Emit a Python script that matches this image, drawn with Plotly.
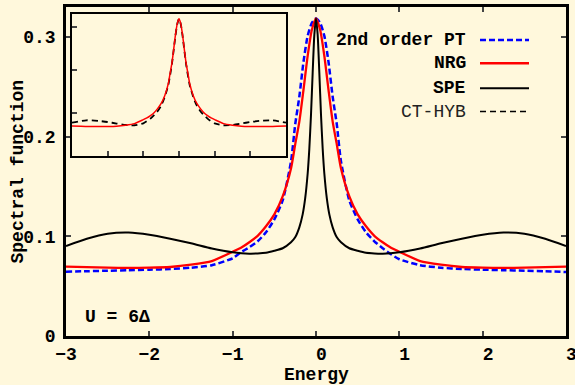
import plotly.graph_objects as go

# ---------------- data ----------------
x_main = [-3.0, -2.75, -2.5, -2.25, -2.0, -1.75, -1.5, -1.25, -1.0, -0.9, -0.8, -0.7,
          -0.6, -0.5, -0.4, -0.3, -0.25, -0.2, -0.15, -0.1, -0.05, 0.0,
          0.05, 0.1, 0.15, 0.2, 0.25, 0.3, 0.4, 0.5, 0.6, 0.7, 0.8, 0.9, 1.0,
          1.25, 1.5, 1.75, 2.0, 2.25, 2.5, 2.75, 3.0]

nrg = [0.0696, 0.0690, 0.0685, 0.0683, 0.0685, 0.0692, 0.0715, 0.0752, 0.0845, 0.0885, 0.0940, 0.1005,
       0.1100, 0.1220, 0.1400, 0.1680, 0.1920, 0.2150, 0.2470, 0.2810, 0.3070, 0.3185,
       0.3070, 0.2810, 0.2470, 0.2150, 0.1920, 0.1680, 0.1400, 0.1220, 0.1100, 0.1005, 0.0940, 0.0885, 0.0845,
       0.0752, 0.0715, 0.0692, 0.0685, 0.0683, 0.0685, 0.0690, 0.0696]

pt2 = [0.0645, 0.0650, 0.0655, 0.0660, 0.0665, 0.0672, 0.0685, 0.0710, 0.0780, 0.0840, 0.0890, 0.0950,
       0.1040, 0.1170, 0.1360, 0.1750, 0.2120, 0.2400, 0.2750, 0.3010, 0.3140, 0.3185,
       0.3140, 0.3010, 0.2750, 0.2400, 0.2120, 0.1750, 0.1360, 0.1170, 0.1040, 0.0950, 0.0880, 0.0820, 0.0770,
       0.0710, 0.0685, 0.0672, 0.0665, 0.0660, 0.0655, 0.0650, 0.0642]

x_spe = [-3.0, -2.75, -2.5, -2.25, -2.0, -1.75, -1.5, -1.25, -1.0, -0.8, -0.7, -0.6, -0.5, -0.4,
         -0.3, -0.25, -0.2, -0.16, -0.13, -0.1, -0.08, -0.06, -0.04, -0.02, 0.0,
         0.02, 0.04, 0.06, 0.08, 0.1, 0.13, 0.16, 0.2, 0.25, 0.3,
         0.4, 0.5, 0.6, 0.7, 0.8, 1.0, 1.25, 1.5, 1.75, 2.0, 2.25, 2.5, 2.75, 3.0]

spe = [0.0903, 0.0975, 0.1025, 0.1037, 0.1015, 0.0975, 0.0930, 0.0878, 0.0840, 0.0826, 0.0828, 0.0835, 0.0855, 0.0880,
       0.0940, 0.0990, 0.1090, 0.1220, 0.1380, 0.1630, 0.1880, 0.2220, 0.2640, 0.3020, 0.3185,
       0.3020, 0.2640, 0.2220, 0.1880, 0.1630, 0.1380, 0.1220, 0.1090, 0.0990, 0.0940,
       0.0880, 0.0855, 0.0835, 0.0828, 0.0826, 0.0840, 0.0878, 0.0930, 0.0975, 0.1015, 0.1037, 0.1025, 0.0975, 0.0903]

x_ct = [-3.0, -2.6, -2.25, -2.0, -1.75, -1.5, -1.25, -1.0, -0.8, -0.6, -0.5, -0.4, -0.3, -0.2, -0.1, -0.05, 0.0,
        0.05, 0.1, 0.2, 0.3, 0.4, 0.5, 0.6, 0.8, 1.0, 1.25, 1.5, 1.75, 2.0, 2.25, 2.6, 3.0]

cthyb = [0.0775, 0.0830, 0.0815, 0.0790, 0.0755, 0.0722, 0.0715, 0.0760, 0.0870, 0.1040, 0.1170, 0.1370, 0.1650, 0.2130, 0.2790, 0.3060, 0.3185,
         0.3060, 0.2790, 0.2130, 0.1650, 0.1370, 0.1170, 0.1040, 0.0870, 0.0760, 0.0715, 0.0722, 0.0755, 0.0790, 0.0815, 0.0830, 0.0775]

x_ticks = [-3, -2, -1, 0, 1, 2, 3]
# non-negative labels carry a leading blank (room for a sign), as in the reference
x_tick_text = ["\u22123", "\u22122", "\u22121", "\u00a00", "\u00a01", "\u00a02", "\u00a03"]
y_ticks = [0, 0.1, 0.2, 0.3]
y_tick_text = ["0", "0.1", "0.2", "0.3"]
inset_x_ticks = [-2, -1, 0, 1, 2]
inset_y_ticks = [0.1, 0.2, 0.3]

labels = ["2nd order PT", "NRG", "SPE", "CT-HYB"]

# ---------------- styling ----------------
BG = "#fff8dc"
FONT = "Liberation Mono"
BLUE = "#0000ff"
RED = "#ff0000"
BLACK = "#000000"

fig = go.Figure()

fig.add_trace(go.Scatter(x=x_main, y=pt2, mode="lines", name=labels[0],
                         line=dict(color=BLUE, width=2.5, dash="6px,3px", shape="spline", smoothing=0.6),
                         xaxis="x", yaxis="y", showlegend=False))
fig.add_trace(go.Scatter(x=x_main, y=nrg, mode="lines", name=labels[1],
                         line=dict(color=RED, width=2.3, shape="spline", smoothing=0.6),
                         xaxis="x", yaxis="y", showlegend=False))
fig.add_trace(go.Scatter(x=x_spe, y=spe, mode="lines", name=labels[2],
                         line=dict(color=BLACK, width=2, shape="spline", smoothing=0.6),
                         xaxis="x", yaxis="y", showlegend=False))

# inset
fig.add_trace(go.Scatter(x=x_ct, y=cthyb, mode="lines", name=labels[3],
                         line=dict(color=BLACK, width=1.8, dash="6px,4px", shape="spline", smoothing=0.6),
                         xaxis="x2", yaxis="y2", showlegend=False))
fig.add_trace(go.Scatter(x=x_main, y=nrg, mode="lines", name=labels[1] + " (inset)",
                         line=dict(color=RED, width=1.5, shape="spline", smoothing=0.6),
                         xaxis="x2", yaxis="y2", showlegend=False))

fig.update_layout(
    width=575, height=385,
    margin=dict(l=66, r=9, t=7, b=49, autoexpand=False),
    paper_bgcolor=BG, plot_bgcolor=BG,
    font=dict(family=FONT, size=18, color=BLACK, weight="bold"),
    xaxis=dict(range=[-3, 3], tickvals=x_ticks, ticktext=x_tick_text, ticks="inside", ticklen=5, tickwidth=2,
               showline=True, linewidth=2.5, linecolor=BLACK, mirror="ticks", ticklabeloverflow="allow",
               automargin=False,
               showgrid=False, zeroline=False, tickfont=dict(family=FONT, size=18, weight="bold")),
    yaxis=dict(range=[0, 0.33], tickvals=y_ticks, ticktext=y_tick_text, ticks="inside", ticklen=5, tickwidth=2,
               showline=True, linewidth=2.5, linecolor=BLACK, mirror="ticks", automargin=False,
               showgrid=False, zeroline=False, ticklabelstandoff=4,
               tickfont=dict(family=FONT, size=18, weight="bold")),
    xaxis2=dict(domain=[0.012, 0.44], anchor="y2", range=[-3, 3], tickvals=inset_x_ticks,
                showticklabels=False, ticks="inside", ticklen=5, tickwidth=1.5,
                showline=True, linewidth=1.5, linecolor=BLACK, mirror=True,
                showgrid=False, zeroline=False),
    yaxis2=dict(domain=[0.547, 0.979], anchor="x2", range=[0, 0.33], tickvals=inset_y_ticks,
                showticklabels=False, ticks="inside", ticklen=5, tickwidth=1.5,
                showline=True, linewidth=1.5, linecolor=BLACK, mirror=True,
                showgrid=False, zeroline=False),
)

# axis titles
fig.add_annotation(text="Energy", xref="paper", yref="paper", x=0.5, y=-0.12,
                   xanchor="center", yanchor="middle", showarrow=False,
                   font=dict(family=FONT, size=18, weight="bold"))
fig.add_annotation(text="Spectral function", xref="paper", yref="paper", x=-0.098, y=0.50,
                   xanchor="center", yanchor="middle", textangle=-90, showarrow=False,
                   font=dict(family=FONT, size=18, weight="bold"))
fig.add_annotation(text="U = 6Δ", xref="paper", yref="paper", x=0.034, y=0.058,
                   xanchor="left", yanchor="middle", showarrow=False,
                   font=dict(family=FONT, size=18, weight="bold"))

# legend (text right-aligned, sample lines to the right)
leg_y = [0.900, 0.829, 0.753, 0.682]
leg_styles = [dict(color=BLUE, width=2.5, dash="6px,3px"),
              dict(color=RED, width=2.5),
              dict(color=BLACK, width=2),
              dict(color=BLACK, width=1.5, dash="6px,4px")]
leg_weights = ["bold", "bold", "bold", "normal"]
for lab, yy, st, wt in zip(labels, leg_y, leg_styles, leg_weights):
    fig.add_annotation(text=lab, xref="paper", yref="paper", x=0.804, y=yy,
                       xanchor="right", yanchor="middle", showarrow=False,
                       font=dict(family=FONT, size=18, weight=wt, color=BLACK if wt == "bold" else "#222"))
    fig.add_shape(type="line", xref="paper", yref="paper", x0=0.828, x1=0.926, y0=yy, y1=yy,
                  line=st)

fig.write_html("out.html", config={"displayModeBar": False},
               post_script="document.body.style.margin='0';document.body.style.overflow='hidden';")
